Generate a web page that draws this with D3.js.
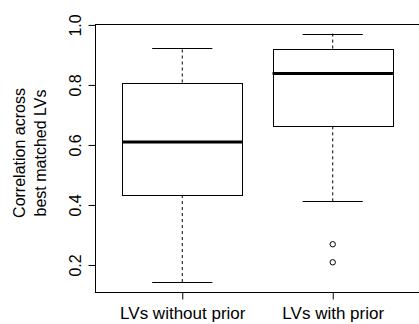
<!DOCTYPE html>
<html>
<head>
<meta charset="utf-8">
<script src="https://cdn.jsdelivr.net/npm/d3@7"></script>
<style>
  body { margin: 0; background: #fff; }
  svg { display: block; font-family: "Liberation Sans", Arial, Helvetica, sans-serif; }
</style>
</head>
<body>
<div id="chart"></div>
<script>
// groups and five-number summaries
const groups = ['LVs without prior', 'LVs with prior']
const lowerWhisker = [0.142, 0.413]
const q1 = [0.433, 0.662]
const median = [0.61, 0.838]
const q3 = [0.808, 0.921]
const upperWhisker = [0.923, 0.971]
const outliers = [[], [0.269, 0.209]]
const yTicks = [0.2, 0.4, 0.6, 0.8, 1.0]

const W = 419, H = 324
const plot = { left: 95, right: 420, top: 24, bottom: 292 }

const svg = d3.select('#chart').append('svg')
  .attr('width', W)
  .attr('height', H)

const x = d3.scaleLinear().domain([0.42, 2.58]).range([plot.left, plot.right])
const y = d3.scaleLinear().domain([0.11, 1.003]).range([plot.bottom, plot.top])

const boxW = x(0.8) - x(0)
const capW = boxW / 2

const boxes = groups.map((g, i) => ({
  name: g, pos: i + 1,
  lo: lowerWhisker[i], q1: q1[i], med: median[i], q3: q3[i], hi: upperWhisker[i],
  out: outliers[i]
}))

const g = svg.selectAll('.box')
  .data(boxes)
  .enter()
  .append('g')
  .attr('class', 'box')

// whiskers
g.append('line')
  .attr('x1', d => x(d.pos)).attr('x2', d => x(d.pos))
  .attr('y1', d => y(d.q3)).attr('y2', d => y(d.hi))
  .attr('stroke', '#000').attr('stroke-dasharray', '3,3')
g.append('line')
  .attr('x1', d => x(d.pos)).attr('x2', d => x(d.pos))
  .attr('y1', d => y(d.q1)).attr('y2', d => y(d.lo))
  .attr('stroke', '#000').attr('stroke-dasharray', '3,3')

// staples
g.selectAll('.cap')
  .data(d => [d.lo, d.hi].map(v => ({ pos: d.pos, v })))
  .enter()
  .append('line')
  .attr('x1', d => x(d.pos) - capW / 2).attr('x2', d => x(d.pos) + capW / 2)
  .attr('y1', d => Math.round(y(d.v)) + 0.5).attr('y2', d => Math.round(y(d.v)) + 0.5)
  .attr('stroke', '#000')

g.append('rect')
  .attr('x', d => Math.round(x(d.pos) - boxW / 2) + 0.5)
  .attr('y', d => Math.round(y(d.q3)) + 0.5)
  .attr('width', Math.round(boxW))
  .attr('height', d => Math.round(y(d.q1)) - Math.round(y(d.q3)))
  .attr('fill', 'none')
  .attr('stroke', '#000')

g.append('line')
  .attr('x1', d => x(d.pos) - boxW / 2).attr('x2', d => x(d.pos) + boxW / 2)
  .attr('y1', d => y(d.med)).attr('y2', d => y(d.med))
  .attr('stroke', '#000').attr('stroke-width', 3)

g.selectAll('.out')
  .data(d => d.out.map(v => ({ pos: d.pos, v })))
  .enter()
  .append('circle')
  .attr('cx', d => x(d.pos))
  .attr('cy', d => y(d.v))
  .attr('r', 2.7)
  .attr('fill', 'none')
  .attr('stroke', '#000')

// plot frame
svg.append('rect')
  .attr('x', plot.left + 0.5).attr('y', plot.top + 0.5)
  .attr('width', plot.right - plot.left).attr('height', plot.bottom - plot.top)
  .attr('fill', 'none').attr('stroke', '#000')

// y axis, R style: rotated labels
const yAxis = svg.append('g')
  .attr('transform', `translate(${plot.left + 0.5},0)`)
  .call(d3.axisLeft(y).tickValues(yTicks).tickFormat(d3.format('.1f')).tickSize(7).tickSizeOuter(0))
yAxis.select('.domain')
  .attr('d', `M0,${y(1.0)}V${y(0.2)}`)
yAxis.selectAll('.tick text')
  .attr('x', null).attr('dy', null)
  .attr('transform', 'translate(-15,0) rotate(-90)')
  .attr('text-anchor', 'middle')
  .attr('font-size', 16)
  .attr('font-family', null)
  .attr('fill', '#000')

// x axis
const xAxis = svg.append('g')
  .attr('transform', `translate(0,${plot.bottom + 0.5})`)
  .call(d3.axisBottom(x).tickValues([1, 2]).tickFormat((d, i) => groups[i]).tickSize(7).tickSizeOuter(0))
xAxis.select('.domain').attr('d', `M${x(1)},0H${x(2)}`)
xAxis.selectAll('.tick text')
  .attr('y', 26.5).attr('dy', null)
  .attr('font-size', 17)
  .attr('font-family', null)
  .attr('fill', '#000')

// axis title, two lines
const title = svg.append('text')
  .attr('transform', `translate(25,${(plot.top + plot.bottom) / 2 - 5}) rotate(-90)`)
  .attr('text-anchor', 'middle')
  .attr('font-size', 16)
title.append('tspan').attr('x', 0).attr('dy', 0).text('Correlation across')
title.append('tspan').attr('x', 0).attr('dy', 21).text('best matched LVs')
</script>
</body>
</html>
